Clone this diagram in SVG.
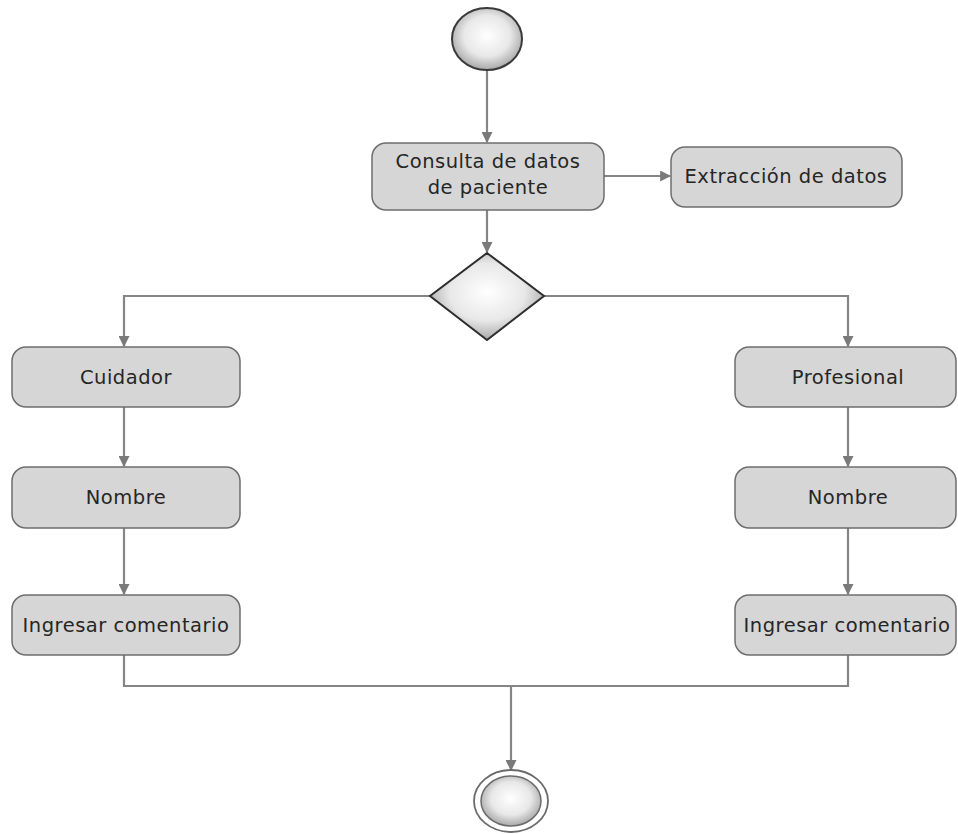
<svg xmlns="http://www.w3.org/2000/svg" width="958" height="834" viewBox="0 0 958 834">
<style>
.box{fill:#d6d6d6;stroke:#6e6e6e;stroke-width:1.5}
.lbl{font-family:"DejaVu Sans","Liberation Sans",sans-serif;font-size:19.5px;letter-spacing:0.5px;fill:#262626;text-anchor:middle}
.con{fill:none;stroke:#858585;stroke-width:2.2}
</style>
<defs>
<radialGradient id="g" cx="50%" cy="45%" r="55%">
<stop offset="0" stop-color="#ffffff"/>
<stop offset="0.6" stop-color="#e8e8e8"/>
<stop offset="1" stop-color="#a8a8a8"/>
</radialGradient>
<marker id="a" viewBox="0 0 10 10" refX="9" refY="5" markerWidth="5" markerHeight="5" orient="auto" markerUnits="strokeWidth">
<path d="M0,0 L10,5 L0,10 z" fill="#7a7a7a"/>
</marker>
</defs>
<g id="connectors">
<path class="con" d="M487,70 V142" marker-end="url(#a)"/>
<path class="con" d="M604,176 H670" marker-end="url(#a)"/>
<path class="con" d="M487,210 V252" marker-end="url(#a)"/>
<path class="con" d="M430,296 H124 V346" marker-end="url(#a)"/>
<path class="con" d="M544,296 H848 V346" marker-end="url(#a)"/>
<path class="con" d="M124,407 V466" marker-end="url(#a)"/>
<path class="con" d="M848,407 V466" marker-end="url(#a)"/>
<path class="con" d="M124,528 V594" marker-end="url(#a)"/>
<path class="con" d="M848,528 V594" marker-end="url(#a)"/>
<path class="con" d="M124,655 V686 H848 V655"/>
<path class="con" d="M511,686 V770" marker-end="url(#a)"/>
</g>
<g id="start">
<ellipse cx="487" cy="39" rx="35" ry="31" fill="url(#g)" stroke="#3a3a3a" stroke-width="2"/>
</g>
<g id="consulta">
<rect class="box" x="372" y="143" width="232" height="67" rx="14"/>
<text class="lbl" x="488" y="168">Consulta de datos</text>
<text class="lbl" x="488" y="194">de paciente</text>
</g>
<g id="extraccion">
<rect class="box" x="671" y="147" width="231" height="60" rx="14"/>
<text class="lbl" x="786" y="183">Extracción de datos</text>
</g>
<g id="decision">
<polygon points="487,253 544,296 487,340 430,296" fill="url(#g)" stroke="#2e2e2e" stroke-width="2"/>
</g>
<g id="cuidador">
<rect class="box" x="12" y="347" width="228" height="60" rx="14"/>
<text class="lbl" x="126" y="384">Cuidador</text>
</g>
<g id="profesional">
<rect class="box" x="735" y="347" width="221" height="60" rx="14"/>
<text class="lbl" x="848" y="384">Profesional</text>
</g>
<g id="nombre1">
<rect class="box" x="12" y="467" width="228" height="61" rx="14"/>
<text class="lbl" x="126" y="504">Nombre</text>
</g>
<g id="nombre2">
<rect class="box" x="735" y="467" width="221" height="61" rx="14"/>
<text class="lbl" x="848" y="504">Nombre</text>
</g>
<g id="ingresar1">
<rect class="box" x="12" y="595" width="228" height="60" rx="14"/>
<text class="lbl" x="126" y="632">Ingresar comentario</text>
</g>
<g id="ingresar2">
<rect class="box" x="735" y="595" width="221" height="60" rx="14"/>
<text class="lbl" x="847" y="632">Ingresar comentario</text>
</g>
<g id="end">
<ellipse cx="511" cy="801" rx="37" ry="31" fill="#ffffff" stroke="#6a6a6a" stroke-width="1.8"/>
<ellipse cx="511" cy="801" rx="30" ry="25" fill="url(#g)" stroke="#6a6a6a" stroke-width="1.5"/>
</g>
</svg>
